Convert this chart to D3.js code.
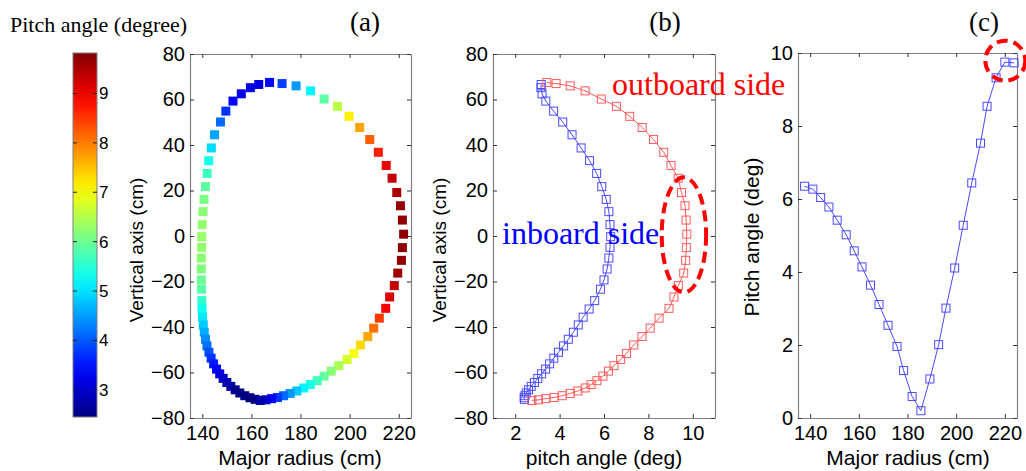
<!DOCTYPE html>
<html lang="en">
<head>
    <meta charset="UTF-8">
    <title>Pitch angle on the flux surface</title>
    <style>
        body {
            margin: 0;
            background: #fff;
        }
        svg {
            display: block;
        }
        .sans {
            font-family: "Liberation Sans", Arial, sans-serif;
            fill: #000;
        }
        .serif {
            font-family: "Liberation Serif", "Times New Roman", serif;
        }
        .axis .domain {
            stroke: #808080;
            stroke-width: 1.2px;
        }
        .axis .tick line {
            stroke: #333;
        }
        .axis .tick text {
            font-family: "Liberation Sans", Arial, sans-serif;
            font-size: 20px;
            fill: #000;
        }
    </style>
</head>
<body>
<div id="chart"></div>
<script src="https://d3js.org/d3.v7.min.js"></script>
<script>
    // outboard half of the surface, top -> bottom
    const outR = [167.4, 172.5, 178.2, 184.1, 189.6, 195.1, 199.8, 204.1, 208.2, 211.7, 214.9, 217.3, 219.2, 220.7,
        221.5, 222.0, 221.5, 221.1, 219.6, 218.2, 216.3, 214.7, 212.1, 209.8, 207.4, 204.4, 201.7, 199.0,
        195.6, 192.5, 189.6, 186.8, 184.0, 181.3, 178.5, 175.8, 173.1, 170.6, 168.2, 165.9, 163.6];
    const outZ = [67.5, 67.0, 66.0, 63.8, 60.2, 57.0, 52.6, 47.7, 42.4, 36.8, 31.0, 25.4, 19.1, 13.3,
        7.0, 0.8, -5.1, -10.7, -16.3, -21.8, -26.8, -31.8, -36.1, -40.5, -44.2, -47.9, -51.6, -54.3,
        -57.0, -59.4, -61.6, -63.6, -65.3, -66.8, -68.1, -69.2, -70.2, -71.0, -71.5, -72.0, -72.3];
    const outP = [3.42, 3.84, 4.48, 5.15, 5.88, 6.56, 7.16, 7.72, 8.23, 8.69, 9.02, 9.34, 9.49, 9.65,
        9.70, 9.73, 9.71, 9.68, 9.59, 9.35, 9.15, 8.93, 8.48, 8.08, 7.71, 7.34, 7.01, 6.75,
        6.45, 6.20, 5.95, 5.68, 5.42, 5.15, 4.82, 4.48, 4.12, 3.75, 3.38, 3.05, 2.75];

    // inboard half, top -> bottom
    const inR = [163.0, 159.6, 155.9, 152.5, 149.6, 147.4, 145.0, 143.7, 142.6, 142.0, 141.3, 140.7, 140.3, 140.0,
        139.8, 139.7, 139.6, 139.6, 139.6, 139.7, 139.8, 139.9, 140.1, 140.4, 140.8, 141.3, 141.9, 142.7,
        143.6, 144.6, 145.8, 147.1, 148.5, 150.0, 151.6, 153.4, 155.3, 157.3, 159.4, 161.5];
    const inZ = [66.6, 65.2, 62.5, 59.3, 54.9, 50.1, 44.5, 38.7, 33.1, 27.5, 21.7, 16.1, 10.7, 5.0,
        -0.3, -5.0, -9.7, -14.5, -19.3, -23.4, -28.4, -32.1, -35.7, -39.1, -42.3, -45.4, -48.3, -51.1,
        -53.7, -56.2, -58.5, -60.6, -62.6, -64.4, -66.1, -67.6, -69.0, -70.2, -71.1, -71.8];
    const inP = [3.17, 3.16, 3.21, 3.38, 3.73, 4.14, 4.56, 4.97, 5.35, 5.67, 5.90, 6.10, 6.22, 6.27,
        6.30, 6.27, 6.22, 6.14, 6.00, 5.84, 5.58, 5.33, 5.06, 4.84, 4.62, 4.39, 4.18, 3.95,
        3.74, 3.55, 3.37, 3.19, 3.02, 2.87, 2.72, 2.60, 2.50, 2.44, 2.40, 2.42];

    // midplane profile, panel (c)
    const midR = [137.7, 141.1, 144.3, 147.7, 151.1, 154.8, 158.1, 161.3, 164.8, 168.3, 172.0, 175.7, 178.4,
        181.9, 185.5, 189.2, 192.8, 195.8, 199.4, 202.9, 206.4, 210.0, 212.7, 216.4, 220.0, 223.8];
    const midP = [6.35, 6.27, 6.04, 5.78, 5.42, 5.02, 4.58, 4.14, 3.64, 3.11, 2.54, 1.96, 1.30,
        0.59, 0.20, 1.07, 2.01, 3.01, 4.11, 5.28, 6.44, 7.53, 8.54, 9.32, 9.75, 9.73];

    const radiusTicks = [140, 160, 180, 200, 220];
    const zTicks = [-80, -60, -40, -20, 0, 20, 40, 60, 80];
    const pitchTicksB = [2, 4, 6, 8, 10];
    const pitchTicksC = [0, 2, 4, 6, 8, 10];
    const barTicks = [3, 4, 5, 6, 7, 8, 9];
    const colorRange = [2.45, 9.82];

    const width = 1026;
    const height = 471;

    const svg = d3.select("#chart")
        .append("svg")
        .attr("width", width)
        .attr("height", height);

    function jet(t) {
        const c = v => Math.round(255 * Math.max(0, Math.min(1, v)));
        return d3.rgb(c(1.5 - Math.abs(4 * t - 3)), c(1.5 - Math.abs(4 * t - 2)), c(1.5 - Math.abs(4 * t - 1))).formatHex();
    }
    const toT = d3.scaleLinear().domain(colorRange).range([0, 1]).clamp(true);
    const color = p => jet(toT(p));

    const plotTop = 54, plotBottom = 418;

    function drawFrame(x, y, xTicks, yTicks) {
        const [x0, x1] = x.range();
        const [y0, y1] = y.range();
        svg.append("g").attr("class", "axis")
            .attr("transform", `translate(0,${y0})`)
            .call(d3.axisBottom(x).tickValues(xTicks).tickSizeInner(-4).tickSizeOuter(0).tickPadding(8));
        svg.append("g").attr("class", "axis")
            .attr("transform", `translate(0,${y1})`)
            .call(d3.axisTop(x).tickValues(xTicks).tickSizeInner(-4).tickSizeOuter(0).tickFormat(""));
        svg.append("g").attr("class", "axis")
            .attr("transform", `translate(${x0},0)`)
            .call(d3.axisLeft(y).tickValues(yTicks).tickSizeInner(-4).tickSizeOuter(0).tickPadding(5));
        svg.append("g").attr("class", "axis")
            .attr("transform", `translate(${x1},0)`)
            .call(d3.axisRight(y).tickValues(yTicks).tickSizeInner(-4).tickSizeOuter(0).tickFormat(""));
    }

    function yLabel(text, x, y, size) {
        svg.append("text")
            .attr("class", "sans")
            .attr("transform", `translate(${x},${y}) rotate(-90)`)
            .attr("text-anchor", "middle")
            .style("font-size", size + "px")
            .text(text);
    }

    function xLabel(text, x, y) {
        svg.append("text")
            .attr("class", "sans")
            .attr("x", x)
            .attr("y", y)
            .attr("text-anchor", "middle")
            .style("font-size", "21px")
            .text(text);
    }

    function panelTitle(text, x) {
        svg.append("text")
            .attr("class", "serif")
            .attr("x", x)
            .attr("y", 31)
            .attr("text-anchor", "middle")
            .style("font-size", "27px")
            .text(text);
    }

    // ---- colorbar ----
    const barX0 = 73, barX1 = 97, barTop = 53, barBottom = 417;
    const grad = svg.append("defs").append("linearGradient")
        .attr("id", "jet")
        .attr("x1", 0).attr("y1", 1).attr("x2", 0).attr("y2", 0);
    d3.range(0, 1.0001, 0.05).forEach(t => {
        grad.append("stop").attr("offset", t).attr("stop-color", jet(t));
    });
    const barY = d3.scaleLinear().domain(colorRange).range([barBottom, barTop]);
    svg.append("rect")
        .attr("x", barX0).attr("y", barTop)
        .attr("width", barX1 - barX0).attr("height", barBottom - barTop)
        .attr("fill", "url(#jet)")
        .attr("stroke", "#808080");
    barTicks.forEach(v => {
        const yy = barY(v);
        svg.append("line").attr("x1", barX0).attr("x2", barX0 + 4).attr("y1", yy).attr("y2", yy).attr("stroke", "#222");
        svg.append("line").attr("x1", barX1 - 4).attr("x2", barX1).attr("y1", yy).attr("y2", yy).attr("stroke", "#222");
        svg.append("text").attr("class", "sans")
            .attr("x", barX1 + 2).attr("y", yy).attr("dy", "0.35em")
            .style("font-size", "17px")
            .text(v);
    });
    svg.append("text")
        .attr("class", "serif")
        .attr("x", 10).attr("y", 32)
        .style("font-size", "22px")
        .text("Pitch angle (degree)");

    // ---- panel (a) ----
    const ax = d3.scaleLinear().domain([135, 225]).range([190, 411]);
    const ay = d3.scaleLinear().domain([-80, 80]).range([plotBottom, plotTop]);
    drawFrame(ax, ay, radiusTicks, zTicks);

    const surface = inR.map((r, i) => ({ r, z: inZ[i], p: inP[i] }))
        .concat(outR.map((r, i) => ({ r, z: outZ[i], p: outP[i] })));
    const sq = 9;
    svg.append("g")
        .selectAll("rect")
        .data(surface)
        .enter()
        .append("rect")
        .attr("x", d => ax(d.r) - sq / 2)
        .attr("y", d => ay(d.z) - sq / 2)
        .attr("width", sq)
        .attr("height", sq)
        .attr("fill", d => color(d.p));

    yLabel("Vertical axis (cm)", 143, 250, 19);
    xLabel("Major radius (cm)", 300, 465);
    panelTitle("(a)", 365);

    // ---- panel (b) ----
    const bx = d3.scaleLinear().domain([1, 11]).range([493, 715]);
    const by = d3.scaleLinear().domain([-80, 80]).range([plotBottom, plotTop]);
    drawFrame(bx, by, pitchTicksB, zTicks);

    function drawSeries(xs, ys, x, y, stroke, size) {
        const pts = xs.map((v, i) => [x(v), y(ys[i])]);
        svg.append("path")
            .attr("d", d3.line()(pts))
            .attr("fill", "none")
            .attr("stroke", stroke)
            .attr("stroke-width", 1);
        svg.append("g")
            .selectAll("rect")
            .data(pts)
            .enter()
            .append("rect")
            .attr("x", d => d[0] - size / 2)
            .attr("y", d => d[1] - size / 2)
            .attr("width", size)
            .attr("height", size)
            .attr("fill", "none")
            .attr("stroke", stroke)
            .attr("stroke-width", 1);
    }

    drawSeries(inP, inZ, bx, by, "#4a4aff", 8);
    drawSeries(outP, outZ, bx, by, "#ff5a5a", 8);

    svg.append("ellipse")
        .attr("cx", bx(9.6))
        .attr("cy", by(0.5))
        .attr("rx", bx(10.6) - bx(9.6))
        .attr("ry", by(0) - by(25.3))
        .attr("fill", "none")
        .attr("stroke", "#f00")
        .attr("stroke-width", 4)
        .attr("stroke-dasharray", "11,6");

    svg.append("text")
        .attr("class", "serif")
        .attr("x", 612).attr("y", 95)
        .attr("fill", "#f00")
        .style("font-size", "32px")
        .text("outboard side");
    svg.append("text")
        .attr("class", "serif")
        .attr("x", 502).attr("y", 244)
        .attr("fill", "#00f")
        .style("font-size", "32px")
        .text("inboard side");

    yLabel("Vertical axis (cm)", 446, 250, 19);
    xLabel("pitch angle (deg)", 604, 465);
    panelTitle("(b)", 665);

    // ---- panel (c) ----
    const cx = d3.scaleLinear().domain([135, 225]).range([798, 1017]);
    const cy = d3.scaleLinear().domain([0, 10]).range([plotBottom, 53]);
    drawFrame(cx, cy, radiusTicks, pitchTicksC);
    drawSeries(midR, midP, cx, cy, "#4a4aff", 8);

    svg.append("circle")
        .attr("cx", cx(220.2))
        .attr("cy", cy(9.79))
        .attr("r", 20)
        .attr("fill", "none")
        .attr("stroke", "#f00")
        .attr("stroke-width", 4)
        .attr("stroke-dasharray", "11,6");

    yLabel("Pitch angle (deg)", 759, 237, 21);
    xLabel("Major radius (cm)", 908, 465);
    panelTitle("(c)", 984);
</script>
</body>
</html>
